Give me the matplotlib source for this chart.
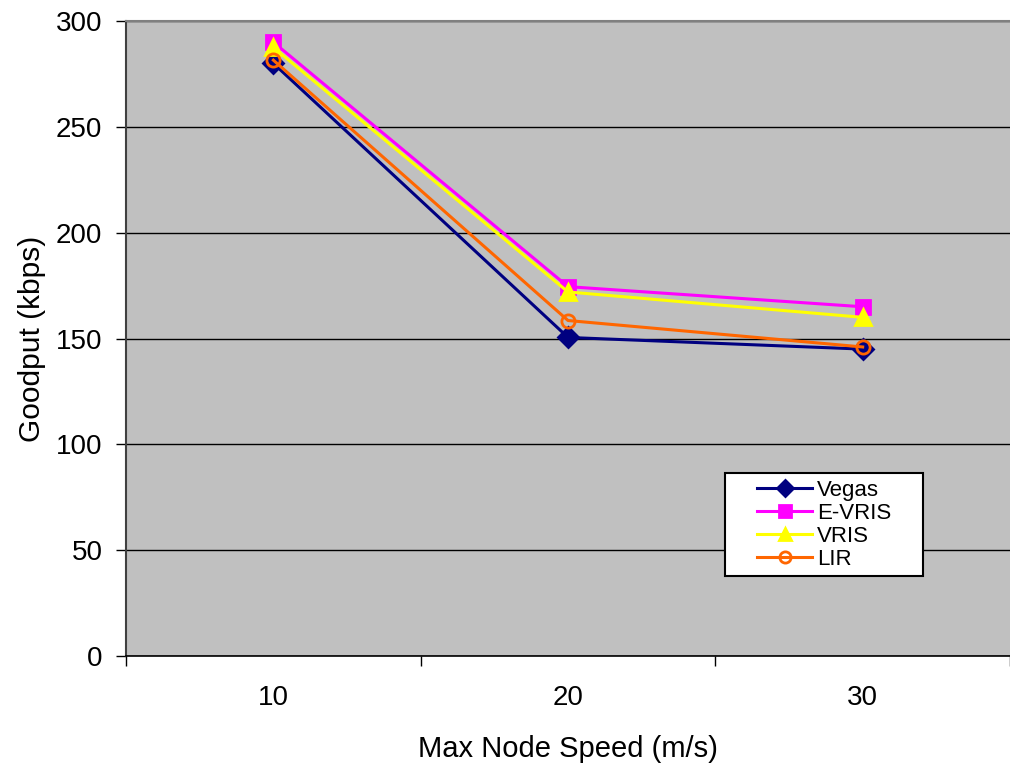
import matplotlib.pyplot as plt
from matplotlib.patches import Rectangle
from matplotlib.ticker import FixedLocator

plt.rcParams['font.family'] = ['Liberation Sans', 'DejaVu Sans']

speeds = ['10', '20', '30']
vegas = [280, 150.5, 145]
e_vris = [290, 174.5, 165]
vris = [287.5, 172, 160]
lir = [281.5, 158.5, 146]

series = [
    ('Vegas', vegas, '#000080', 'D', '#000080', 10),
    ('E-VRIS', e_vris, '#FF00FF', 's', '#FF00FF', 10),
    ('VRIS', vris, '#FFFF00', '^', '#FFFF00', 11),
    ('LIR', lir, '#FF6600', 'o', 'none', 9.5),
]

fig = plt.figure(figsize=(10.1, 7.69), dpi=100)
ax = fig.add_axes([0.1248, 0.1469, 0.8752, 0.8258])
ax.set_facecolor('#C0C0C0')

x = list(range(len(speeds)))
for name, vals, color, marker, face, ms in series:
    ax.plot(x, vals, color=color, lw=2.2, marker=marker, markersize=ms,
            markerfacecolor=face, markeredgecolor=color, markeredgewidth=2,
            label=name, zorder=3)

ax.set_xlim(-0.5, 2.5)
ax.set_ylim(0, 300)
ax.set_yticks(range(0, 301, 50))
ax.yaxis.grid(True, color='black', lw=1)
ax.set_axisbelow(True)

ax.set_xticks(x)
ax.set_xticklabels(speeds)
ax.tick_params(axis='x', which='major', length=0, pad=21, labelsize=20)
ax.xaxis.set_minor_locator(FixedLocator([-0.5, 0.5, 1.5, 2.5]))
ax.tick_params(axis='x', which='minor', length=7, width=1, color='black')
ax.tick_params(axis='y', length=7, width=1, labelsize=20, pad=10)

ax.spines['right'].set_visible(False)
ax.spines['top'].set_color('#808080')
ax.spines['top'].set_linewidth(1.5)
ax.spines['left'].set_color('#404040')
ax.spines['left'].set_linewidth(1.5)
ax.spines['bottom'].set_linewidth(1.2)

ax.set_xlabel('Max Node Speed (m/s)', fontsize=21, labelpad=17)
ax.set_ylabel('Goodput (kbps)', fontsize=21.5, labelpad=7.5)

# legend box drawn separately so the entries sit centred inside it
box = (0.6776, 0.1255, 0.224, 0.162)
ax.add_patch(Rectangle(box[:2], box[2], box[3], transform=ax.transAxes,
                       facecolor='white', edgecolor='black', lw=1.5,
                       zorder=4))
ax.legend(loc='center', bbox_to_anchor=(box[0] + box[2] / 2, box[1] + box[3] / 2),
          fontsize=16, frameon=False, borderaxespad=0, borderpad=0,
          handlelength=2.5, handletextpad=0.2, labelspacing=0.08,
          markerscale=0.85).set_zorder(5)

fig.savefig('out.png', dpi=100)
plt.close(fig)
